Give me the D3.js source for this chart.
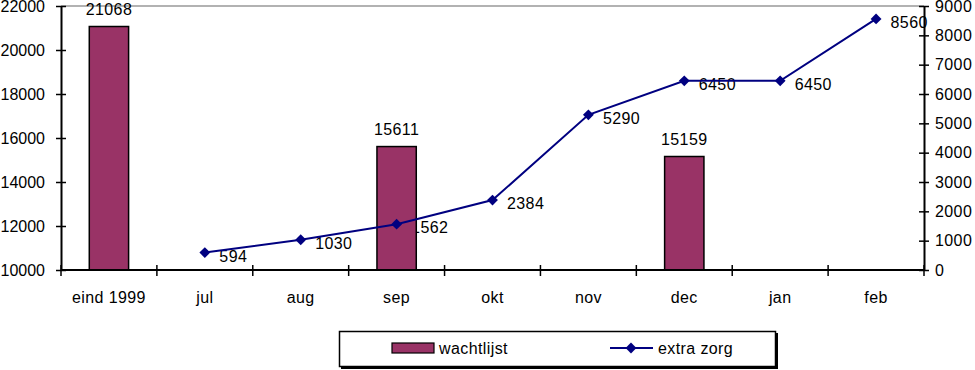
<!DOCTYPE html>
<html><head><meta charset="utf-8">
<script src="https://cdn.jsdelivr.net/npm/d3@7"></script>
<style>body{margin:0;background:#fff}svg{display:block}text{font-family:"Liberation Sans",Arial,sans-serif;font-size:16px;letter-spacing:0.4px;fill:#000}</style>
</head><body><svg id="c" width="975" height="370"></svg>
<script>
const categories = ["eind 1999","jul","aug","sep","okt","nov","dec","jan","feb"];
const wachtlijst = [21068,null,null,15611,null,null,15159,null,null];
const extraZorg = [null,594,1030,1562,2384,5290,6450,6450,8560];
const extraLabels = ["","594","1030","1562","2384","5290","6450","6450","8560"];
const leftTicks = [10000,12000,14000,16000,18000,20000,22000];
const rightTicks = [0,1000,2000,3000,4000,5000,6000,7000,8000,9000];
const seriesNames = ["wachtlijst","extra zorg"];

const svg = d3.select("#c");
const L = 61, R = 924, T = 6, B = 270;
const x = d3.scaleBand().domain(categories).range([L,R]).paddingInner(0).paddingOuter(0);
const yL = d3.scaleLinear().domain([10000,22000]).range([B,T]);
const yR = d3.scaleLinear().domain([0,9000]).range([B,T]);
const barW = x.bandwidth()*0.41;

// top border of plot area
svg.append("line").attr("x1",L).attr("x2",R).attr("y1",T).attr("y2",T).attr("stroke","#999").attr("stroke-width",1.5);

// line labels (drawn under bars)
const pts = categories.map((c,i)=>({c,v:extraZorg[i],lab:extraLabels[i]})).filter(d=>d.v!=null);
svg.append("g").selectAll("text").data(pts).join("text")
  .attr("x",d=>x(d.c)+x.bandwidth()/2+14.5).attr("y",d=>yR(d.v)+9).text(d=>d.lab);

// bars
const bars = categories.map((c,i)=>({c,v:wachtlijst[i]})).filter(d=>d.v!=null);
svg.append("g").selectAll("rect").data(bars).join("rect")
  .attr("x",d=>x(d.c)+x.bandwidth()/2-barW/2).attr("width",barW)
  .attr("y",d=>yL(d.v)).attr("height",d=>B-yL(d.v))
  .attr("fill","#993366").attr("stroke","#000").attr("stroke-width",1.5);
svg.append("g").selectAll("text").data(bars).join("text")
  .attr("x",d=>x(d.c)+x.bandwidth()/2).attr("y",d=>yL(d.v)-12).attr("text-anchor","middle").text(d=>d.v);

// line
const line = d3.line().x(d=>x(d.c)+x.bandwidth()/2).y(d=>yR(d.v));
svg.append("path").datum(pts).attr("d",line).attr("fill","none").attr("stroke","#000080").attr("stroke-width",2);
const diamond = d3.symbol().type(d3.symbolDiamond2).size(75);
svg.append("g").selectAll("path").data(pts).join("path")
  .attr("transform",d=>`translate(${x(d.c)+x.bandwidth()/2},${yR(d.v)})`)
  .attr("d",diamond).attr("fill","#000080");

// axes
const axL = svg.append("g").attr("transform",`translate(${L},0)`)
  .call(d3.axisLeft(yL).tickValues(leftTicks).tickFormat(d3.format("d")).tickSizeInner(5).tickSizeOuter(0).tickPadding(11));
axL.selectAll(".tick line").attr("x2",5).attr("x1",-5);
const axR = svg.append("g").attr("transform",`translate(${R},0)`)
  .call(d3.axisRight(yR).tickValues(rightTicks).tickFormat(d3.format("d")).tickSizeInner(5).tickSizeOuter(0).tickPadding(6));
axR.selectAll(".tick line").attr("x1",-5).attr("x2",5);
const bandTicks = [...categories.map(c=>x(c)), R];
const axB = svg.append("g");
axB.append("line").attr("x1",L).attr("x2",R).attr("y1",B).attr("y2",B).attr("stroke","#000").attr("stroke-width",2);
axB.selectAll("line.t").data(bandTicks).join("line").attr("class","t")
  .attr("x1",d=>d).attr("x2",d=>d).attr("y1",B-5).attr("y2",B+6).attr("stroke","#000").attr("stroke-width",1.5);
axB.selectAll("text").data(categories).join("text")
  .attr("x",d=>x(d)+x.bandwidth()/2).attr("y",303).attr("text-anchor","middle").text(d=>d);
[axL,axR].forEach(a=>{
  a.select(".domain").attr("stroke","#000").attr("stroke-width",2);
  a.selectAll(".tick line").attr("stroke","#000").attr("stroke-width",1.5);
  a.selectAll("text").attr("font-size",16).attr("font-family","Liberation Sans, Arial, sans-serif").attr("fill","#000");
});
axL.selectAll("text").style("letter-spacing","0px");

// legend
const lg = svg.append("g");
lg.append("rect").attr("x",341).attr("y",333).attr("width",437).attr("height",36).attr("fill","#000");
lg.append("rect").attr("x",339.5).attr("y",331.5).attr("width",436).attr("height",35).attr("fill","#fff").attr("stroke","#000").attr("stroke-width",1.5);
lg.append("rect").attr("x",392).attr("y",343).attr("width",42).attr("height",10).attr("fill","#993366").attr("stroke","#000").attr("stroke-width",1.2);
lg.append("text").attr("x",439).attr("y",354).text(seriesNames[0]);
lg.append("line").attr("x1",610).attr("x2",653).attr("y1",348).attr("y2",348).attr("stroke","#000080").attr("stroke-width",2);
lg.append("path").attr("transform","translate(631,348)").attr("d",diamond).attr("fill","#000080");
lg.append("text").attr("x",658).attr("y",354).text(seriesNames[1]);
</script></body></html>
